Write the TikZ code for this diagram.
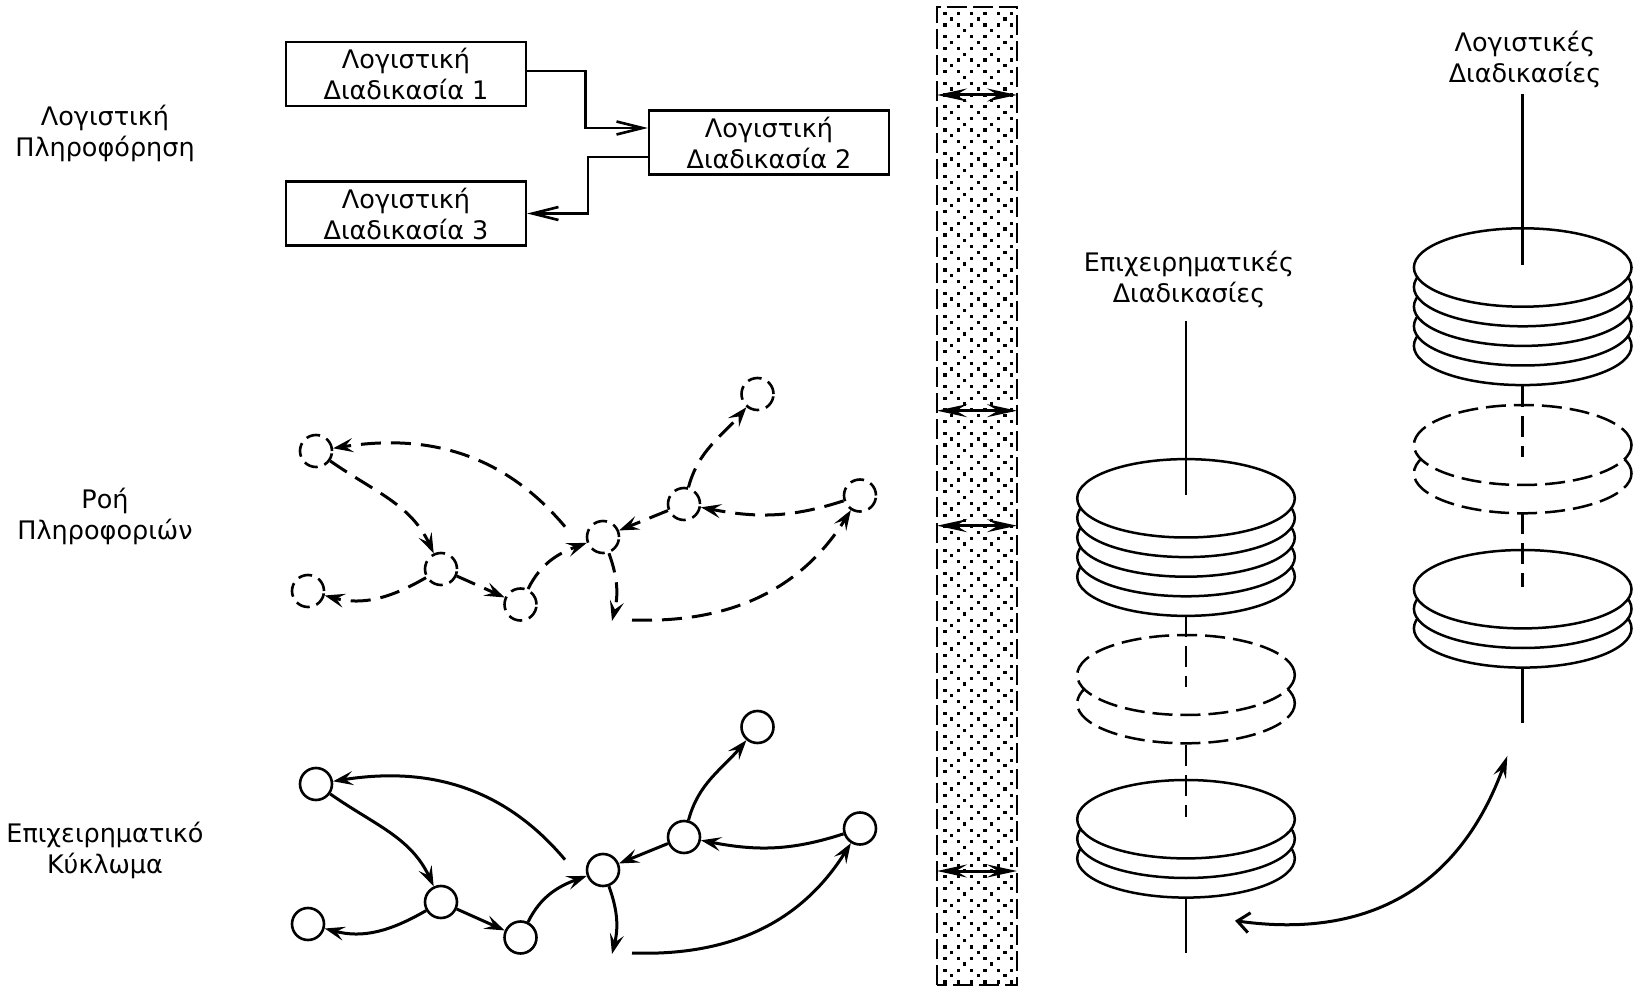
\documentclass[tikz,border=0pt]{standalone}
\usepackage{fontspec}
\setmainfont{DejaVu Sans}
\usetikzlibrary{arrows.meta}

% one layer of the process network: #1 name prefix, #2 vertical shift,
% #3 extra style for the vertices, #4 extra style for the links
\newcommand{\netlayer}[4]{%
  \begin{scope}[yshift=#2]
    \node[vertex,#3] (#1A) at (316,535) {};
    \node[vertex,#3] (#1B) at (308,395) {};
    \node[vertex,#3] (#1C) at (441,417) {};
    \node[vertex,#3] (#1D) at (520.5,381.5) {};
    \node[vertex,#3] (#1E) at (603,449) {};
    \node[vertex,#3] (#1F) at (684,482) {};
    \node[vertex,#3] (#1G) at (757.5,592) {};
    \node[vertex,#3] (#1H) at (860,490.5) {};
    \coordinate (#1Q) at (565,459.3);
    \coordinate (#1P) at (612,365);
    \coordinate (#1R) at (632,366);
    \draw[flow,#4] (#1A) to[out=-35,in=115] (#1C);
    \draw[flow,#4] (#1C) to[out=210,in=-15] (#1B);
    \draw[flow,#4] (#1C) -- (#1D);
    \draw[flow,#4] (#1D) to[out=64,in=200] (#1E);
    \draw[flow,#4] (#1Q) to[out=130,in=9] (#1A);
    \draw[flow,#4] (#1F) -- (#1E);
    \draw[flow,#4] (#1F) to[out=75,in=230] (#1G);
    \draw[flow,#4] (#1H) to[out=198,in=-11] (#1F);
    \draw[flow,#4] (#1E) to[out=-70,in=76] (#1P);
    \draw[flow,#4] (#1R) to[out=-2,in=238] (#1H);
  \end{scope}}

% one disc of a stack: optional style, centre x, centre y
\newcommand{\stackdisc}[3][]{%
  \draw[discline,#1] (#2,#3) ellipse [x radius=108.8pt,y radius=39.2pt];}

\begin{document}
\begin{tikzpicture}[x=1pt,y=1pt,
  label/.style={font=\fontsize{25.5}{31}\selectfont, align=center, inner sep=0pt},
  procbox/.style={draw, line width=2.2pt, minimum width=240pt, minimum height=64pt,
    inner sep=0pt, font=\fontsize{25.5}{31}\selectfont, align=center},
  boxlink/.style={line width=2.2pt,
    -{Straight Barb[length=26pt,width=13pt,line width=2.6pt]}},
  vertex/.style={circle, draw, line width=2.6pt, minimum size=32pt, inner sep=0pt},
  flow/.style={line width=3pt, -{Stealth[length=20pt,width=14pt,inset=8pt]}},
  ghostnode/.style={dash pattern=on 14pt off 7pt},
  ghostlink/.style={dash pattern=on 20pt off 10pt},
  discline/.style={line width=2.5pt, fill=white},
  ghostdisc/.style={dash pattern=on 20pt off 8pt},
  axis/.style={line width=2.5pt},
  ghostaxis/.style={line width=2.5pt, dash pattern=on 21pt off 9pt},
  wallarrow/.style={line width=3pt,
    {Stealth[length=30pt,width=13pt,inset=11pt]}-{Stealth[length=30pt,width=13pt,inset=11pt]}},
]
\useasboundingbox (0,0) rectangle (1640,986);

% row titles
\node[label] (t1) at (105,853) {Λογιστική\\Πληροφόρηση};
\node[label] (t2) at (105,470) {Ροή\\Πληροφοριών};
\node[label] (t3) at (105,136) {Επιχειρηματικό\\Κύκλωμα};

% logistic process boxes
\node[procbox] (b1) at (406,912) {Λογιστική\\Διαδικασία 1};
\node[procbox] (b2) at (769,843.5) {Λογιστική\\Διαδικασία 2};
\node[procbox] (b3) at (406,772.5) {Λογιστική\\Διαδικασία 3};
\draw[boxlink] ([yshift=3pt]b1.east) -| ([xshift=-62.5pt,yshift=14.5pt]b2.west)
  -- ([yshift=14.5pt]b2.west);
\draw[boxlink] ([yshift=-14.2pt]b2.west) -| ([xshift=61pt]b3.east) -- (b3.east);

% information flow (dashed) and business circuit (solid)
\netlayer{d}{0pt}{ghostnode}{ghostlink}
\netlayer{s}{-333pt}{solid}{solid}

% dotted separating wall
\begin{scope}
  \clip (937,1) rectangle (1017,979);
  \foreach \r in {0,...,83}{
    \foreach \c in {0,...,5}{
      \fill ({943.4+\c*13.33},{971.1-\r*11.67}) rectangle ++(3.2,3.2);}}
  \foreach \r in {0,...,41}{
    \foreach \c in {0,1,2}{
      \fill ({950.1+\c*26.67},{965.3-\r*23.33}) rectangle ++(3.2,3.2);}
    \foreach \c in {0,1}{
      \fill ({963.1+\c*26.67},{953.6-\r*23.33}) rectangle ++(3.2,3.2);}}
\end{scope}
\draw[line width=2.6pt, dash pattern=on 20pt off 6pt] (937,1) rectangle (1017,979);
\foreach \i/\y in {1/891,2/575.3,3/460.3,4/115}{
  \coordinate (wl\i) at (937,\y);
  \coordinate (wr\i) at (1017,\y);
  \draw[wallarrow] (wl\i) -- (wr\i);}

% business process stack
\node[label] (s1) at (1189,707) {Επιχειρηματικές\\Διαδικασίες};
\foreach \y in {409.3,428.9,448.5,468.1,487.7}{\stackdisc{1186}{\y}}
\foreach \y in {282.7,311}{
  \draw[discline,ghostdisc] (1186,\y) ellipse [x radius=108.8pt,y radius=40pt];}
\foreach \y in {127.6,147.2,166.8}{\stackdisc{1186}{\y}}
\draw[axis] (1186,665) -- (1186,491);
\draw[ghostaxis] (1186,370) -- (1186,299);
\draw[ghostaxis] (1186,241) -- (1186,169);
\draw[axis] (1186,88) -- (1186,33);

% logistic process stack
\node[label] (s2) at (1525,926.5) {Λογιστικές\\Διαδικασίες};
\foreach \y in {640.1,659.7,679.3,698.9,718.5}{\stackdisc{1522.7}{\y}}
\foreach \y in {512.7,541}{
  \draw[discline,ghostdisc] (1522.7,\y) ellipse [x radius=108.8pt,y radius=40pt];}
\foreach \y in {357.6,377.2,396.8}{\stackdisc{1522.7}{\y}}
\draw[axis] (1522.7,892) -- (1522.7,721);
\draw[ghostaxis] (1522.7,600) -- (1522.7,529.3);
\draw[ghostaxis] (1522.7,472.7) -- (1522.7,399.3);
\draw[axis] (1522.7,318) -- (1522.7,262.7);

% exchange between the two stacks
\coordinate (swapL) at (1235,65.3);
\coordinate (swapR) at (1507.3,230);
\draw[line width=3pt,
  {Straight Barb[length=12pt,width=20pt]}-{Stealth[length=22pt,width=13pt,inset=8pt]}]
  (swapL) to[out=-8,in=-110,looseness=1.1] (swapR);
\end{tikzpicture}
\end{document}
